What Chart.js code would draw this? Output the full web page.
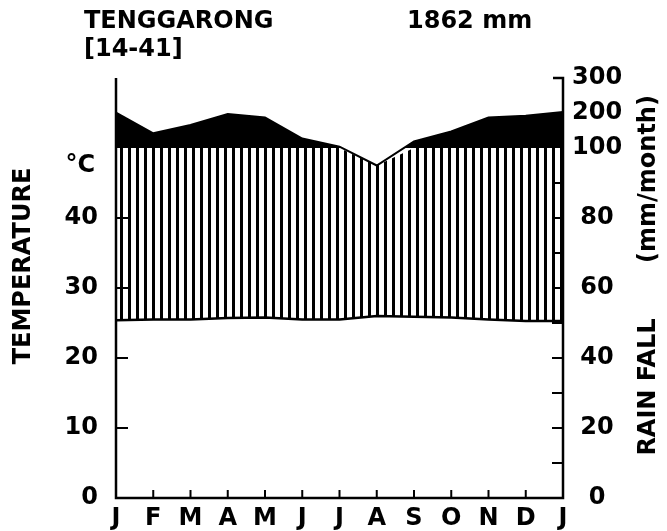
<!DOCTYPE html>
<html>
<head>
<meta charset="utf-8">
<script src="https://cdn.jsdelivr.net/npm/chart.js@4.4.1/dist/chart.umd.min.js"></script>
<style>
  body { margin: 0; background: #fff; }
</style>
</head>
<body>
<canvas id="climateChart" width="667" height="531"></canvas>
<script>
// Walter-Lieth climate diagram for Tenggarong
const months = ['J', 'F', 'M', 'A', 'M', 'J', 'J', 'A', 'S', 'O', 'N', 'D', 'J'];
const temperature = [25.4, 25.5, 25.5, 25.7, 25.8, 25.5, 25.5, 26.0, 25.9, 25.8, 25.5, 25.3, 25.3];
const rainfall = [201, 142, 166, 197, 187, 127, 104, 95, 119, 147, 187, 192, 203];
const tempTicks = [0, 10, 20, 30, 40];
const rainTicks = [0, 20, 40, 60, 80, 100, 200, 300];

// 20 mm = 10 °C up to 100 mm, above 100 mm the scale is reduced to 1/10
function rainToScale(mm) {
  return mm <= 100 ? mm / 2 : 50 + (mm - 100) / 20;
}

const FONT = 'DejaVu Sans';
const ctx = document.getElementById('climateChart').getContext('2d');

// vertical hatching for the humid season
const pc = document.createElement('canvas');
pc.width = 8; pc.height = 8;
const pctx = pc.getContext('2d');
pctx.fillStyle = '#000';
pctx.fillRect(0, 0, 3, 8);
const hatch = ctx.createPattern(pc, 'repeat');

const diagramFrame = {
  id: 'diagramFrame',
  afterDraw(chart) {
    const { ctx, chartArea: a, scales: { x, y } } = chart;
    ctx.save();
    ctx.strokeStyle = '#000';
    ctx.lineWidth = 2.5;
    ctx.beginPath();
    ctx.moveTo(a.left, a.top);
    ctx.lineTo(a.left, a.bottom);
    ctx.lineTo(a.right, a.bottom);
    ctx.lineTo(a.right, a.top);
    ctx.lineTo(a.right - 10, a.top);
    ctx.stroke();

    ctx.lineWidth = 2;
    ctx.beginPath();
    tempTicks.slice(1).forEach(t => {
      const py = y.getPixelForValue(t);
      ctx.moveTo(a.left, py);
      ctx.lineTo(a.left + 12, py);
    });
    for (let mm = 10; mm <= 90; mm += 10) {
      const py = y.getPixelForValue(rainToScale(mm));
      ctx.moveTo(a.right, py);
      ctx.lineTo(a.right - 11, py);
    }
    for (let i = 1; i < months.length - 1; i++) {
      const px = x.getPixelForValue(i);
      ctx.moveTo(px, a.bottom);
      ctx.lineTo(px, a.bottom - 8);
    }
    ctx.stroke();

    ctx.fillStyle = '#000';
    ctx.font = 'bold 24px "' + FONT + '"';
    ctx.textBaseline = 'alphabetic';
    ctx.textAlign = 'left';
    ctx.fillText('TENGGARONG', 84, 28);
    ctx.fillText('[14-41]', 84, 56);
    ctx.fillText('1862 mm', 407, 28);

    ctx.textAlign = 'right';
    ctx.textBaseline = 'middle';
    ctx.fillText('°C', 95, y.getPixelForValue(47.5));

    ctx.textAlign = 'center';
    ctx.save();
    ctx.translate(24, 266);
    ctx.rotate(-Math.PI / 2);
    ctx.fillText('TEMPERATURE', 0, 0);
    ctx.restore();
    ctx.save();
    ctx.translate(649, 387);
    ctx.rotate(-Math.PI / 2);
    ctx.fillText('RAIN FALL', 0, 0);
    ctx.restore();
    ctx.save();
    ctx.translate(649, 179);
    ctx.rotate(-Math.PI / 2);
    ctx.fillText('(mm/month)', 0, 0);
    ctx.restore();
    ctx.restore();
  }
};

const tickFont = { family: FONT, size: 24, weight: 'bold' };

const climateChart = new Chart(ctx, {
  type: 'line',
  data: {
    labels: months,
    datasets: [{
      label: 'Temperature',
      data: temperature,
      borderColor: '#000',
      borderWidth: 2.5,
      pointRadius: 0,
      fill: false,
      order: 0
    }, {
      label: 'Humid',
      data: rainfall.map(v => Math.min(rainToScale(v), 50)),
      borderWidth: 0,
      borderColor: 'rgba(0,0,0,0)',
      pointRadius: 0,
      fill: { target: 0, above: hatch, below: 'rgba(0,0,0,0)' },
      order: 2
    }, {
      label: 'Rainfall',
      data: rainfall.map(rainToScale),
      borderColor: '#000',
      borderWidth: 2,
      pointRadius: 0,
      fill: { target: { value: 50 }, above: '#000', below: 'rgba(0,0,0,0)' },
      order: 1
    }]
  },
  options: {
    responsive: false,
    animation: false,
    layout: { padding: { top: 78, left: 0, right: 0, bottom: 0 } },
    plugins: {
      legend: { display: false },
      tooltip: { enabled: false }
    },
    scales: {
      x: {
        type: 'category',
        offset: false,
        grid: { display: false, drawTicks: false },
        border: { display: false },
        ticks: { color: '#000', font: tickFont, autoSkip: false, maxRotation: 0, padding: 6 },
        afterFit(scale) { scale.height = 33; }
      },
      y: {
        position: 'left',
        min: 0,
        max: 60,
        grid: { display: false, drawTicks: false },
        border: { display: false },
        afterBuildTicks(scale) { scale.ticks = tempTicks.map(v => ({ value: v })); },
        ticks: { color: '#000', font: tickFont, autoSkip: false, padding: 18,
          callback: (v, i) => String(tempTicks[i]) },
        afterFit(scale) { scale.width = 116; }
      },
      y2: {
        position: 'right',
        min: 0,
        max: 60,
        grid: { display: false, drawTicks: false },
        border: { display: false },
        afterBuildTicks(scale) { scale.ticks = rainTicks.map(mm => ({ value: rainToScale(mm) })); },
        ticks: { color: '#000', font: tickFont, autoSkip: false, padding: 9, crossAlign: 'center',
          callback: (v, i) => String(rainTicks[i]) },
        afterFit(scale) { scale.width = 104; }
      }
    }
  },
  plugins: [diagramFrame]
});
</script>
</body>
</html>
